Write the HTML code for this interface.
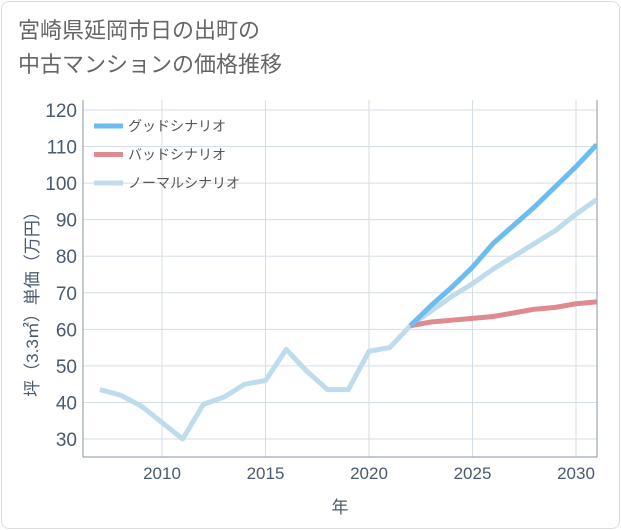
<!DOCTYPE html>
<html><head><meta charset="utf-8"><style>
body{margin:0;background:#fff;font-family:"Liberation Sans","Noto Sans CJK JP",sans-serif;}
#wrap{position:relative;width:621px;height:530px;}
#frame{position:absolute;left:1px;top:1px;width:617px;height:526px;border:1px solid #ddd;border-radius:8px;}
#title{position:absolute;left:18px;top:14px;font-size:22px;line-height:34px;color:#666;}
</style></head><body>
<div id="wrap">
<div id="frame"></div>
<div id="title">宮崎県延岡市日の出町の<br>中古マンションの価格推移</div>
<svg id="chart" width="621" height="530" style="position:absolute;left:0;top:0"></svg>
</div>
<script>
const years=[2007,2008,2009,2010,2011,2012,2013,2014,2015,2016,2017,2018,2019,2020,2021,2022,2023,2024,2025,2026,2027,2028,2029,2030,2031];
const normalVals=[43.5,42,39,34.5,30,39.5,41.5,45,46,54.5,48.5,43.5,43.5,54,55,61,65,69,72.5,76.5,80,83.5,87,91.5,95.5];
const futureYears=[2022,2023,2024,2025,2026,2027,2028,2029,2030,2031];
const goodVals=[61,66.5,71.5,77,83.5,88.5,93.5,99,104.5,110.5];
const badVals=[61,62,62.5,63,63.5,64.5,65.5,66,67,67.5];
const yTicks=[30,40,50,60,70,80,90,100,110,120];
const xTicks=[2010,2015,2020,2025,2030];
const L=83,R=597,T=100,B=457;
const x=v=>162+(v-2010)*20.7;
const y=v=>439-(v-30)*3.656;
const svg=document.getElementById('chart');
const NS='http://www.w3.org/2000/svg';
function mk(t,a){const e=document.createElementNS(NS,t);for(const k in a)e.setAttribute(k,a[k]);svg.appendChild(e);return e;}
for(const t of yTicks){const g=mk('line',{x1:L,x2:R,y1:y(t),y2:y(t),stroke:'#d5dde6','stroke-width':1});


const tx=mk('text',{x:L-6,y:y(t)+7,'text-anchor':'end','font-size':19,fill:'#4a5a6e'});tx.textContent=t;

}
for(const t of xTicks){const g=mk('line',{x1:x(t),x2:x(t),y1:T,y2:B,stroke:'#d5dde6','stroke-width':1});


const tx=mk('text',{x:x(t),y:B+22,'text-anchor':'middle','font-size':17,fill:'#4a5a6e'});tx.textContent=t;

}
const ax=mk('path',{d:`M${L} ${T}V${B}H${R}V${T}`,fill:'none',stroke:'#8a96a3','stroke-width':1});


const cp=mk('clipPath',{id:'cp'});const cr=document.createElementNS(NS,'rect');cr.setAttribute('x',L);cr.setAttribute('y',T);cr.setAttribute('width',R-L);cr.setAttribute('height',B-T);cp.appendChild(cr);
function line(xs,vs,c,n){const p=mk('polyline',{points:xs.map((v,i)=>x(v)+','+y(vs[i])).join(' '),fill:'none',stroke:c,'stroke-width':5,'stroke-linejoin':'round','clip-path':'url(#cp)'});

}
line(years,normalVals,'#bfdcec','normal-scenario-line');
line(futureYears,badVals,'#de8a8e','bad-scenario-line');
line(futureYears,goodVals,'#6cbcf0','good-scenario-line');
const leg=[['グッドシナリオ','#6cbcf0'],['バッドシナリオ','#de8a8e'],['ノーマルシナリオ','#bfdcec']];
leg.forEach((d,i)=>{const yy=126+i*28.5;const l=mk('line',{x1:94,x2:123,y1:yy,y2:yy,stroke:d[1],'stroke-width':5});


const t=mk('text',{x:128,y:yy+5,'font-size':14,fill:'#555'});t.textContent=d[0];

});
const xt=mk('text',{x:340,y:513,'text-anchor':'middle','font-size':17,fill:'#4a5a6e'});xt.textContent='年';


const yt=mk('text',{x:0,y:0,'text-anchor':'middle','font-size':17,fill:'#4a5a6e',transform:'translate(38,300) rotate(-90)'});yt.textContent='坪（3.3㎡）単価（万円）';


</script>
</body></html>
